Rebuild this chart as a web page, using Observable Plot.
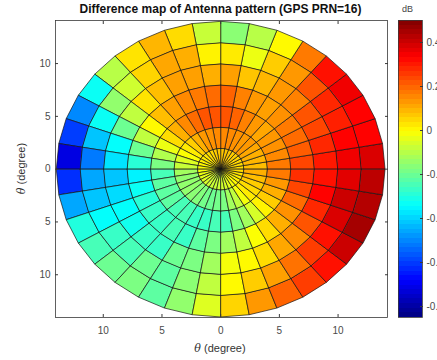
<!DOCTYPE html>
<html><head><meta charset="utf-8">
<script src="https://cdn.jsdelivr.net/npm/d3@7"></script>
<script src="https://cdn.jsdelivr.net/npm/@observablehq/plot@0.6"></script>
<style>
html,body{margin:0;padding:0;overflow:hidden;background:#fff;}
#wrap{position:relative;width:437px;height:360px;overflow:hidden;font-family:"Liberation Sans",Arial,sans-serif;}
.abs{position:absolute;white-space:nowrap;}
</style></head><body><div id="wrap"></div>
<script>
// grid definition
const radiusEdges = [0, 2, 4, 6, 8, 10, 12, 14];
const azimuthStepDeg = 10;
// values per ring (sector 0 = 0..10 deg counter-clockwise from +x)
const ring1 = [0.04,0.04,0.05,0.05,0.06,0.06,0.07,0.07,0.07,0.07,0.06,0.05,0.04,0.03,0.02,0.01,0.0,-0.01,-0.02,-0.03,-0.04,-0.05,-0.06,-0.07,-0.08,-0.08,-0.08,-0.07,-0.06,-0.04,-0.02,0.0,0.01,0.02,0.03,0.04];
const ring2 = [0.08,0.09,0.10,0.11,0.13,0.13,0.14,0.15,0.15,0.15,0.14,0.13,0.10,0.06,0.02,-0.01,-0.05,-0.08,-0.13,-0.15,-0.15,-0.15,-0.16,-0.17,-0.19,-0.20,-0.19,-0.18,-0.13,-0.09,-0.02,0.02,0.04,0.06,0.08,0.10];
const ring3 = [0.17,0.15,0.14,0.13,0.11,0.13,0.16,0.20,0.22,0.22,0.22,0.19,0.15,0.10,0.04,-0.03,-0.11,-0.18,-0.25,-0.22,-0.22,-0.22,-0.25,-0.25,-0.27,-0.27,-0.25,-0.25,-0.18,-0.13,-0.06,0.01,0.06,0.10,0.13,0.17];
const ring4 = [0.24,0.21,0.19,0.17,0.14,0.12,0.13,0.16,0.20,0.19,0.17,0.15,0.12,0.08,0.00,-0.09,-0.20,-0.29,-0.36,-0.33,-0.29,-0.27,-0.27,-0.25,-0.27,-0.22,-0.18,-0.13,-0.09,-0.01,0.04,0.10,0.14,0.19,0.24,0.27];
const ring5 = [0.30,0.28,0.24,0.22,0.16,0.13,0.09,0.07,0.12,0.10,0.12,0.12,0.08,0.03,-0.09,-0.20,-0.34,-0.38,-0.42,-0.39,-0.34,-0.32,-0.27,-0.27,-0.20,-0.18,-0.13,-0.02,0.00,0.04,0.11,0.15,0.22,0.28,0.33,0.31];
const ring6 = [0.35,0.33,0.29,0.28,0.22,0.13,0.06,-0.03,0.02,0.01,0.10,0.11,0.05,-0.07,-0.15,-0.33,-0.42,-0.52,-0.46,-0.42,-0.34,-0.27,-0.25,-0.20,-0.22,-0.16,-0.09,0.00,0.06,0.12,0.18,0.25,0.31,0.38,0.40,0.37];
const ring7 = [0.38,0.33,0.33,0.35,0.31,0.17,0.00,-0.10,-0.16,-0.08,0.04,0.09,0.03,-0.10,-0.33,-0.50,-0.60,-0.72,-0.62,-0.46,-0.30,-0.25,-0.20,-0.18,-0.22,-0.15,-0.05,0.05,0.13,0.20,0.25,0.31,0.40,0.45,0.43,0.42];
// axes / labels
const xTicks = [-10, -5, 0, 5, 10];
const yTicks = [-10, -5, 0, 5, 10];
const colorTicks = [0.4, 0.2, 0, -0.2, -0.4, -0.6, -0.8];
const colorDomain = [-0.85, 0.5];
const xDomain = [-14.07, 14.21];
const yDomain = [-14.05, 14.08];
const titleText = "Difference map of Antenna pattern (GPS PRN=16)";
const unitText = "dB";
const axisText = "(degree)";

function jet(t) {
  const c = v => Math.max(0, Math.min(1, v));
  const r = c(Math.min(4*t - 1.5, -4*t + 4.5));
  const g = c(Math.min(4*t - 0.5, -4*t + 3.5));
  const b = c(Math.min(4*t + 0.5, -4*t + 2.5));
  return d3.rgb(r*255, g*255, b*255).formatHex();
}

const rings = [ring1, ring2, ring3, ring4, ring5, ring6, ring7];
const verts = [];
rings.forEach((vals, i) => vals.forEach((v, s) => {
  const r0 = radiusEdges[i], r1 = radiusEdges[i+1];
  const a0 = s*azimuthStepDeg*Math.PI/180, a1 = (s+1)*azimuthStepDeg*Math.PI/180;
  const id = i*vals.length + s;
  for (const [r, a] of [[r0,a0],[r1,a0],[r1,a1],[r0,a1]])
    verts.push({id, value: v, x: r*Math.cos(a), y: r*Math.sin(a)});
}));

const colorOpts = {type: "linear", domain: colorDomain, interpolate: jet, clamp: true};
const ink = "#3a3a3a";
const blank = () => "";

const main = Plot.plot({
  width: 437, height: 360,
  marginTop: 20, marginBottom: 43, marginLeft: 55, marginRight: 50,
  style: {fontFamily: '"Liberation Sans", Arial, sans-serif', fontSize: "10px", color: ink, background: "transparent"},
  x: {domain: xDomain},
  y: {domain: yDomain},
  color: colorOpts,
  marks: [
    Plot.line(verts, {x: "x", y: "y", z: "id", fill: "value", stroke: "#151515", strokeWidth: 0.7, curve: "linear-closed"}),
    Plot.frame({stroke: ink, strokeWidth: 0.8}),
    Plot.axisX(xTicks, {anchor: "bottom", tickSize: 0, tickPadding: 9, tickFormat: Math.abs, label: null, fill: "#4a4a4a"}),
    Plot.axisX(xTicks, {anchor: "bottom", tickSize: -3, tickFormat: blank, label: null}),
    Plot.axisX(xTicks, {anchor: "top", tickSize: -3, tickFormat: blank, label: null}),
    Plot.axisY(yTicks, {anchor: "left", tickSize: 0, tickPadding: 5, tickFormat: Math.abs, label: null, fill: "#4a4a4a"}),
    Plot.axisY(yTicks, {anchor: "left", tickSize: -3, tickFormat: blank, label: null}),
    Plot.axisY(yTicks, {anchor: "right", tickSize: -3, tickFormat: blank, label: null})
  ]
});

// colorbar with 64 bands like the jet(64) map
const nBands = 64;
const step = (colorDomain[1] - colorDomain[0]) / nBands;
const bands = d3.range(nBands).map(k => {
  const lo = colorDomain[0] + k*step;
  return {lo, hi: Math.min(colorDomain[1], lo + step*1.6), mid: lo + step/2};
});
const bar = Plot.plot({
  width: 70, height: 360,
  marginTop: 20, marginBottom: 43, marginLeft: 8, marginRight: 38,
  style: {fontFamily: '"Liberation Sans", Arial, sans-serif', fontSize: "10px", color: ink, background: "transparent", overflow: "visible"},
  x: {domain: [0, 1], axis: null},
  y: {domain: colorDomain},
  color: colorOpts,
  marks: [
    Plot.rect(bands, {x1: 0, x2: 1, y1: "lo", y2: "hi", fill: "mid", inset: 0, shapeRendering: "crispEdges"}),
    Plot.frame({stroke: ink, strokeWidth: 0.8}),
    Plot.axisY(colorTicks, {anchor: "right", tickSize: 0, tickPadding: 4, tickFormat: d => String(d), label: null, fill: "#4a4a4a"}),
    Plot.axisY(colorTicks, {anchor: "right", tickSize: -3, tickFormat: blank, label: null})
  ]
});

const wrap = document.getElementById("wrap");
main.style.position = "absolute"; main.style.left = "0px"; main.style.top = "0px";
bar.style.position = "absolute"; bar.style.left = "390px"; bar.style.top = "0px"; bar.style.maxWidth = "none";
wrap.appendChild(main);
wrap.appendChild(bar);

function addDiv(html, css) {
  const d = document.createElement("div");
  d.className = "abs";
  d.innerHTML = html;
  Object.assign(d.style, css);
  wrap.appendChild(d);
  return d;
}
addDiv(titleText, {left: "2px", top: "2px", width: "437px", textAlign: "center", fontWeight: "bold", fontSize: "12px", lineHeight: "15px", color: "#111"});
addDiv(unitText, {left: "402px", top: "4px", fontSize: "9px", lineHeight: "11px", color: "#444"});
addDiv('<i style="font-family:\'DejaVu Serif\',serif">θ</i> ' + axisText, {left: "0px", top: "341px", width: "440px", textAlign: "center", fontSize: "11px", lineHeight: "14px", color: "#333"});
addDiv('<i style="font-family:\'DejaVu Serif\',serif">θ</i> ' + axisText, {left: "-29px", top: "161px", width: "100px", textAlign: "center", fontSize: "11px", lineHeight: "14px", color: "#333", transform: "rotate(-90deg)", transformOrigin: "50% 50%"});
</script></body></html>
